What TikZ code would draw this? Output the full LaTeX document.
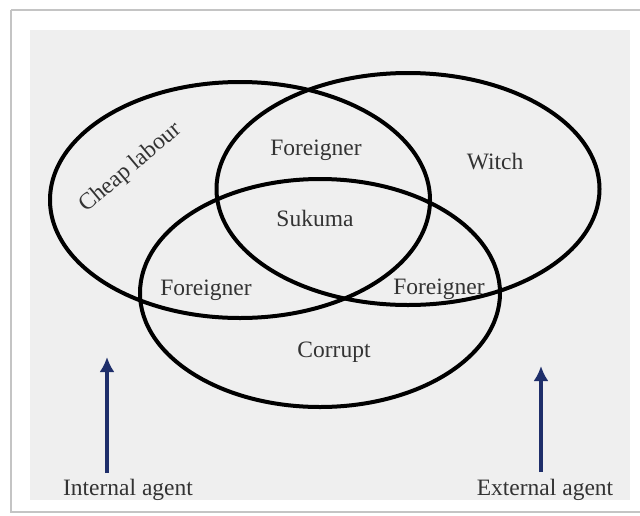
\documentclass[tikz,border=0pt]{standalone}
\usepackage{fontspec}
\setmainfont{Liberation Serif}
\usetikzlibrary{shapes.geometric,arrows.meta}
\definecolor{panel}{HTML}{EFEFEF}
\definecolor{frame}{HTML}{C4C4C4}
\definecolor{txt}{HTML}{333333}
\definecolor{navy}{HTML}{1E2E6A}
\tikzset{
  setring/.style={ellipse, draw=black, line width=4pt, inner sep=0pt, outer sep=0pt},
  lbl/.style={text=txt, font=\fontsize{23.5}{25}\selectfont, inner sep=0pt},
  agentarrow/.style={draw=navy, line width=3.4pt, -{Latex[length=15pt,width=15pt]}}
}
\begin{document}
\begin{tikzpicture}[x=1pt,y=-1pt]
\useasboundingbox (0,0) rectangle (640,515);
\fill[white] (0,0) rectangle (640,515);
\draw[frame, line width=1.2pt] (11,10) -- (11,512) -- (645,512);
\draw[frame, line width=1.2pt] (11,10) -- (645,10);
\fill[panel] (30,30) rectangle (630,500);
% sets
\node[setring, minimum width=380pt, minimum height=236pt] (cheap) at (240,200) {};
\node[setring, minimum width=383pt, minimum height=232pt] (witch) at (408,189) {};
\node[setring, minimum width=360pt, minimum height=228pt] (corrupt) at (320,293) {};
% labels
\node[lbl, rotate=40] (lcheap) at (131,168) {Cheap labour};
\node[lbl] (lfortop) at (316,150) {Foreigner};
\node[lbl] (lwitch) at (495,162) {Witch};
\node[lbl] (lsukuma) at (315,218) {Sukuma};
\node[lbl] (lforleft) at (206,290) {Foreigner};
\node[lbl] (lforright) at (439,289) {Foreigner};
\node[lbl] (lcorrupt) at (334,352) {Corrupt};
\node[lbl] (linternal) at (128,490) {Internal agent};
\node[lbl] (lexternal) at (545,490) {External agent};
% arrows
\coordinate (ia0) at (107,473);
\coordinate (ia1) at (107,357);
\coordinate (ea0) at (541,472);
\coordinate (ea1) at (541,366);
\draw[agentarrow] (ia0) -- (ia1);
\draw[agentarrow] (ea0) -- (ea1);
\end{tikzpicture}
\end{document}
